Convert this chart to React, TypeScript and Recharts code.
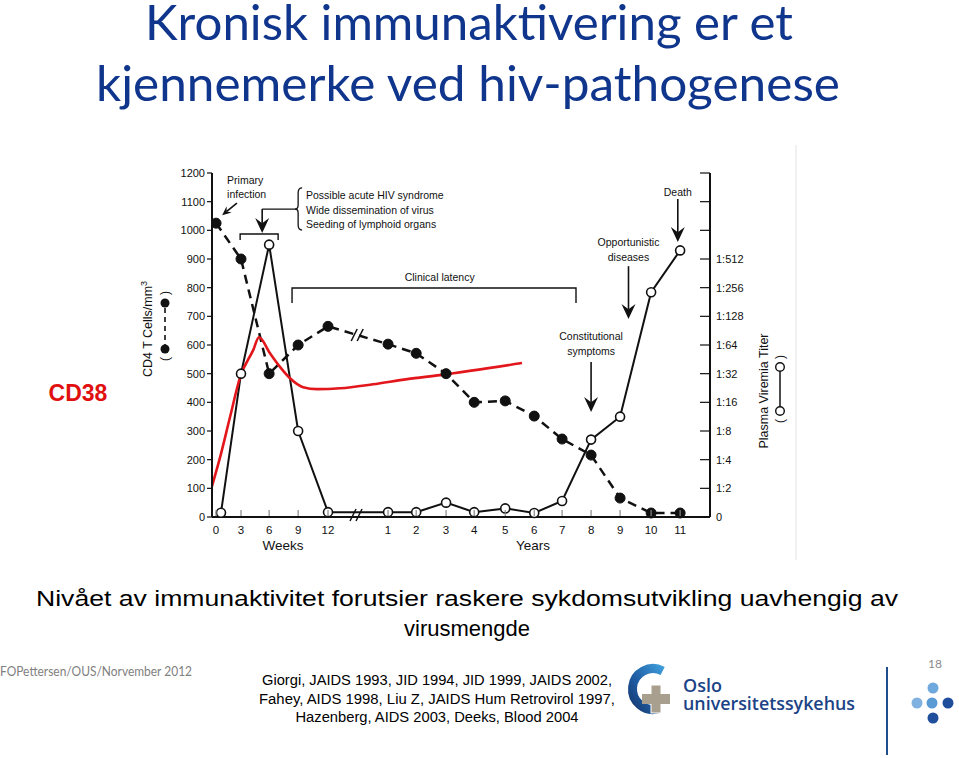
import React from 'react';
import { ComposedChart, Line, XAxis, YAxis, ReferenceLine, ReferenceDot } from 'recharts';

// broken time axis: weeks 0-12, then years 1-11 (positions)
const xTickLabels = ['0', '3', '6', '9', '12', '1', '2', '3', '4', '5', '6', '7', '8', '9', '10', '11'];
const xTickPos = [0, 0.86, 1.83, 2.83, 3.86, 5.93, 6.9, 7.93, 8.9, 9.97, 10.97, 11.93, 12.93, 13.93, 15.0, 16.0];

const cd4Ticks = [0, 100, 200, 300, 400, 500, 600, 700, 800, 900, 1000, 1100, 1200];
const cd4Counts = [1025, 900, 500, 600, 665, 603, 571, 500, 400, 405, 352, 272, 216, 66, 14, 14];

const titerSteps = [0, 1, 2, 3, 4, 5, 6, 7, 8, 9, 10, 11, 12];
const titerLabels = ['0', '1:2', '1:4', '1:8', '1:16', '1:32', '1:64', '1:128', '1:256', '1:512', '', '', ''];
const viremiaPos = [0.17, 0.86, 1.83, 2.83, 3.86, 5.93, 6.9, 7.93, 8.9, 9.97, 10.97, 11.93, 12.93, 13.93, 15.0, 16.0];
const viremiaLevel = [0.15, 5.0, 9.5, 3.0, 0.17, 0.17, 0.17, 0.5, 0.17, 0.3, 0.14, 0.56, 2.7, 3.5, 7.84, 9.3];

// red CD38 curve drawn over the figure
const cd38Pos = [-0.14, 0.14, 0.48, 0.83, 1.28, 1.48, 1.86, 2.21, 2.55, 3.0, 3.48, 4.28, 5.41, 6.59, 7.72, 10.55];
const cd38Level = [108, 209, 348, 488, 582, 627, 571, 523, 484, 453, 446, 449, 463, 481, 495, 537];

const cd4Data = xTickPos.map((x, i) => ({ x, cd4: cd4Counts[i] }));
const viremiaData = viremiaPos.map((x, i) => ({ x, v: viremiaLevel[i] }));
const cd38Data = cd38Pos.map((x, i) => ({ x, c: cd38Level[i] }));

const FONT = 'Liberation Sans, Arial, sans-serif';
const INK = '#111';

const XTick = (p: any) => {
  const { x, y, payload } = p;
  const i = xTickPos.indexOf(payload.value);
  return (
    <g>
      <line x1={x} x2={x} y1={y - 7} y2={y - 1} stroke="#888" strokeWidth={1.2} />
      <text x={x} y={y + 16.5} textAnchor="middle" fontSize={11.5} fill={INK} fontFamily={FONT}>
        {xTickLabels[i]}
      </text>
    </g>
  );
};

const LeftTick = (p: any) => {
  const { x, y, payload } = p;
  return (
    <g>
      <line x1={x - 5} x2={x} y1={y} y2={y} stroke={INK} strokeWidth={1.2} />
      <text x={x - 7} y={y} dy="0.35em" textAnchor="end" fontSize={11} fill={INK} fontFamily={FONT}>
        {payload.value}
      </text>
    </g>
  );
};

const RightTick = (p: any) => {
  const { x, y, payload } = p;
  const i = titerSteps.indexOf(payload.value);
  return (
    <g>
      <line x1={x - 10} x2={x} y1={y} y2={y} stroke={INK} strokeWidth={1.2} />
      <text x={x + 6} y={y} dy="0.35em" textAnchor="start" fontSize={11} fill={INK} fontFamily={FONT}>
        {titerLabels[i]}
      </text>
    </g>
  );
};

const arrowShape = (len: number, half: number) => (p: any) => {
  const { x1, y1, x2, y2 } = p;
  const a = Math.atan2(y2 - y1, x2 - x1);
  const c = Math.cos(a);
  const s = Math.sin(a);
  const bx = x2 - len * c;
  const by = y2 - len * s;
  const nx = x2 - len * 0.65 * c;
  const ny = y2 - len * 0.65 * s;
  return (
    <g>
      <line x1={x1} y1={y1} x2={nx} y2={ny} stroke={INK} strokeWidth={1.6} />
      <polygon
        points={`${x2},${y2} ${bx - s * half},${by + c * half} ${nx},${ny} ${bx + s * half},${by - c * half}`}
        fill={INK}
      />
    </g>
  );
};

const bracketShape = (drop: number) => (p: any) => {
  const { x1, y1, x2, y2 } = p;
  return (
    <path
      d={`M${x1},${y1 + drop} L${x1},${y1} L${x2},${y2} L${x2},${y2 + drop}`}
      fill="none"
      stroke={INK}
      strokeWidth={1.4}
    />
  );
};

const braceShape = (p: any) => {
  const { x1, y1, y2 } = p;
  const x = x1;
  const m = (y1 + y2) / 2;
  return (
    <path
      d={`M${x + 4},${y1} Q${x},${y1} ${x},${y1 + 5} L${x},${m - 4} Q${x},${m} ${x - 3},${m} Q${x},${m} ${x},${m + 4} L${x},${y2 - 5} Q${x},${y2} ${x + 4},${y2}`}
      fill="none"
      stroke={INK}
      strokeWidth={1.3}
    />
  );
};

const textShape = (lines: string[], anchor: string, size = 10.5, gap = 14.5) => (p: any) => (
  <text x={p.cx} y={p.cy} textAnchor={anchor} fontSize={size} fill={INK} fontFamily={FONT} dominantBaseline="central">
    {lines.map((l, i) => (
      <tspan key={i} x={p.cx} dy={i === 0 ? 0 : gap}>
        {l}
      </tspan>
    ))}
  </text>
);

const breakShape = (p: any) => {
  const { cx, cy } = p;
  return (
    <g stroke={INK} strokeWidth={1.5}>
      <line x1={cx - 7} y1={cy + 6} x2={cx - 1} y2={cy - 6} />
      <line x1={cx - 1} y1={cy + 6} x2={cx + 5} y2={cy - 6} />
    </g>
  );
};

function Slide() {
  return (
    <svg width={959} height={758} style={{ position: 'absolute', left: 0, top: 0, pointerEvents: 'none' }}>
      <defs>
        <linearGradient id="logoArc" x1="1" y1="0" x2="0" y2="1">
          <stop offset="0%" stopColor="#3d9ad8" />
          <stop offset="55%" stopColor="#1f5fa6" />
          <stop offset="100%" stopColor="#173a72" />
        </linearGradient>
      </defs>
      <text x={469} y={40} textAnchor="middle" fontFamily="Lato, sans-serif" fontSize={48} fill="#0f368c" textLength={648} lengthAdjust="spacingAndGlyphs">
        Kronisk immunaktivering er et
      </text>
      <text x={468} y={101} textAnchor="middle" fontFamily="Lato, sans-serif" fontSize={48} fill="#0f368c" textLength={744} lengthAdjust="spacingAndGlyphs">
        kjennemerke ved hiv-pathogenese
      </text>

      <text x={78} y={401} textAnchor="middle" fontFamily={FONT} fontWeight="bold" fontSize={23} fill="#e01010">
        CD38
      </text>

      {/* axis titles and series keys */}
      <text transform="translate(152,329) rotate(-90)" textAnchor="middle" fontFamily={FONT} fontSize={12.5} fill={INK}>
        CD4 T Cells/mm<tspan dy={-5} fontSize={9}>3</tspan>
      </text>
      <g transform="translate(165,326) rotate(-90)" fontFamily={FONT} fill={INK}>
        <text x={-33} y={4} fontSize={12} textAnchor="middle">(</text>
        <text x={33} y={4} fontSize={12} textAnchor="middle">)</text>
        <line x1={-23} x2={23} y1={0} y2={0} stroke={INK} strokeWidth={1.6} strokeDasharray="5 4" />
        <circle cx={-23} cy={0} r={4.5} />
        <circle cx={23} cy={0} r={4.5} />
      </g>
      <text transform="translate(768,391) rotate(-90)" textAnchor="middle" fontFamily={FONT} fontSize={12.5} fill={INK}>
        Plasma Viremia Titer
      </text>
      <g transform="translate(780,389) rotate(-90)" fontFamily={FONT} fill={INK}>
        <text x={-32} y={4} fontSize={12} textAnchor="middle">(</text>
        <text x={32} y={4} fontSize={12} textAnchor="middle">)</text>
        <line x1={-22} x2={22} y1={0} y2={0} stroke={INK} strokeWidth={1.5} />
        <circle cx={-22} cy={0} r={4.3} fill="#fff" stroke={INK} strokeWidth={1.4} />
        <circle cx={22} cy={0} r={4.3} fill="#fff" stroke={INK} strokeWidth={1.4} />
      </g>
      <text x={283} y={550} textAnchor="middle" fontFamily={FONT} fontSize={13.5} fill={INK}>Weeks</text>
      <text x={533} y={550} textAnchor="middle" fontFamily={FONT} fontSize={13.5} fill={INK}>Years</text>
      <line x1={796} x2={796} y1={145} y2={560} stroke="#ececec" strokeWidth={1.5} />

      <text x={467} y={606} textAnchor="middle" fontFamily={FONT} fontSize={22} fill="#000" textLength={862} lengthAdjust="spacingAndGlyphs">
        Nivået av immunaktivitet forutsier raskere sykdomsutvikling uavhengig av
      </text>
      <text x={467} y={636} textAnchor="middle" fontFamily={FONT} fontSize={22} fill="#000">
        virusmengde
      </text>

      <text x={0} y={676} fontFamily="Lato, sans-serif" fontSize={13} fill="#808080" textLength={192} lengthAdjust="spacingAndGlyphs">
        FOPettersen/OUS/Norvember 2012
      </text>
      <text x={437} y={685} textAnchor="middle" fontFamily={FONT} fontSize={14} fill="#000" textLength={350} lengthAdjust="spacingAndGlyphs">
        Giorgi, JAIDS 1993, JID 1994, JID 1999, JAIDS 2002,
      </text>
      <text x={437} y={704} textAnchor="middle" fontFamily={FONT} fontSize={14} fill="#000" textLength={356} lengthAdjust="spacingAndGlyphs">
        Fahey, AIDS 1998, Liu Z, JAIDS Hum Retrovirol 1997,
      </text>
      <text x={437} y={722} textAnchor="middle" fontFamily={FONT} fontSize={14} fill="#000" textLength={283} lengthAdjust="spacingAndGlyphs">
        Hazenberg, AIDS 2003, Deeks, Blood 2004
      </text>

      {/* hospital logo */}
      <path d="M662.6,670.9 A20.5,20.5 0 1 0 658.7,708.7" fill="none" stroke="url(#logoArc)" strokeWidth={9} />
      <rect x={651} y={685} width={10} height={28} fill="#a89f8e" stroke="#fff" strokeWidth={1} />
      <rect x={642} y={694} width={28} height={10} fill="#a89f8e" />
      <rect x={652} y={686} width={8} height={26} fill="#a89f8e" />
      <text fontFamily="Open Sans, sans-serif" fontWeight={600} fontSize={18} fill="#1b4386">
        <tspan x={683} y={692}>Oslo</tspan>
        <tspan x={683} y={710} textLength={172} lengthAdjust="spacingAndGlyphs">universitetssykehus</tspan>
      </text>
      <line x1={887} x2={887} y1={667} y2={755} stroke="#1f4e8c" strokeWidth={2} />
      <text x={935} y={668} textAnchor="middle" fontFamily="Lato, sans-serif" fontSize={12} fill="#8a8a8a">18</text>
      <circle cx={933} cy={688} r={5.5} fill="#6fa8dc" />
      <circle cx={917} cy={703} r={5.5} fill="#7fb2e0" />
      <circle cx={932} cy={703} r={5.5} fill="#5a9bd5" />
      <circle cx={948} cy={703} r={5.5} fill="#1f4e9c" />
      <circle cx={933} cy={718} r={5.5} fill="#1f4e9c" />
    </svg>
  );
}

export default function App() {
  return (
    <div style={{ position: 'relative', width: 959, height: 758, background: '#fff', overflow: 'hidden' }}>
      <style>{'body{margin:0}'}</style>
      <ComposedChart width={959} height={758} margin={{ top: 173, right: 199, bottom: 211, left: 172 }} style={{ position: 'absolute', left: 0, top: 0 }}>
        <XAxis
          type="number"
          dataKey="x"
          domain={[-0.14, 17.03]}
          ticks={xTickPos}
          interval={0}
          allowDataOverflow
          height={30}
          tick={<XTick />}
          tickSize={0}
          tickMargin={0}
          tickLine={false}
          axisLine={{ stroke: INK, strokeWidth: 2 }}
        />
        <YAxis
          yAxisId="left"
          domain={[0, 1200]}
          ticks={cd4Ticks}
          interval={0}
          width={40}
          tick={<LeftTick />}
          tickSize={0}
          tickMargin={0}
          tickLine={false}
          axisLine={{ stroke: INK, strokeWidth: 2 }}
        />
        <YAxis
          yAxisId="right"
          orientation="right"
          domain={[0, 12]}
          ticks={titerSteps}
          interval={0}
          width={50}
          tick={<RightTick />}
          tickSize={0}
          tickMargin={0}
          tickLine={false}
          axisLine={{ stroke: INK, strokeWidth: 2 }}
        />

        {/* annotations */}
        <ReferenceDot yAxisId="left" x={0.38} y={1176} r={1} ifOverflow="visible" shape={textShape(['Primary', 'infection'], 'start', 10.5, 14)} />
        <ReferenceLine yAxisId="left" ifOverflow="visible" segment={[{ x: 0.72, y: 1095 }, { x: 0.21, y: 1053 }]} shape={arrowShape(9, 4)} />
        <ReferenceLine yAxisId="left" ifOverflow="visible" segment={[{ x: 0.83, y: 987 }, { x: 2.14, y: 987 }]} shape={bracketShape(6)} />
        <ReferenceLine yAxisId="left" ifOverflow="visible" segment={[{ x: 2.79, y: 1074 }, { x: 1.59, y: 1074 }]} stroke={INK} strokeWidth={1.4} />
        <ReferenceLine yAxisId="left" ifOverflow="visible" segment={[{ x: 1.59, y: 1074 }, { x: 1.59, y: 991 }]} shape={arrowShape(15, 7)} />
        <ReferenceLine yAxisId="left" ifOverflow="visible" segment={[{ x: 2.83, y: 1148 }, { x: 2.83, y: 1001 }]} shape={braceShape} />
        <ReferenceDot
          yAxisId="left"
          x={3.1}
          y={1123}
          r={1}
          ifOverflow="visible"
          shape={textShape(['Possible acute HIV syndrome', 'Wide dissemination of virus', 'Seeding of lymphoid organs'], 'start', 10.5, 14.5)}
        />
        <ReferenceLine yAxisId="left" ifOverflow="visible" segment={[{ x: 2.62, y: 799 }, { x: 12.41, y: 799 }]} shape={bracketShape(15)} />
        <ReferenceDot yAxisId="left" x={7.71} y={837} r={1} ifOverflow="visible" shape={textShape(['Clinical latency'], 'middle')} />
        <ReferenceDot yAxisId="left" x={14.22} y={959} r={1} ifOverflow="visible" shape={textShape(['Opportunistic', 'diseases'], 'middle', 10.5, 15)} />
        <ReferenceLine yAxisId="left" ifOverflow="visible" segment={[{ x: 14.22, y: 875 }, { x: 14.22, y: 691 }]} shape={arrowShape(15, 7)} />
        <ReferenceDot yAxisId="left" x={15.92} y={1134} r={1} ifOverflow="visible" shape={textShape(['Death'], 'middle')} />
        <ReferenceLine yAxisId="left" ifOverflow="visible" segment={[{ x: 15.92, y: 1109 }, { x: 15.92, y: 959 }]} shape={arrowShape(15, 7)} />
        <ReferenceDot yAxisId="left" x={12.93} y={631} r={1} ifOverflow="visible" shape={textShape(['Constitutional', 'symptoms'], 'middle', 10.5, 15)} />
        <ReferenceLine yAxisId="left" ifOverflow="visible" segment={[{ x: 12.93, y: 541 }, { x: 12.93, y: 366 }]} shape={arrowShape(15, 7)} />

        <Line
          yAxisId="right"
          data={viremiaData}
          dataKey="v"
          type="linear"
          stroke={INK}
          strokeWidth={2}
          dot={{ r: 4.5, fill: '#fff', stroke: INK, strokeWidth: 1.6 }}
          isAnimationActive={false}
        />
        <Line
          yAxisId="left"
          data={cd4Data}
          dataKey="cd4"
          type="linear"
          stroke={INK}
          strokeWidth={2.5}
          strokeDasharray="9 6"
          dot={{ r: 5, fill: INK, stroke: INK, strokeWidth: 1, strokeDasharray: '' }}
          isAnimationActive={false}
        />
        <ReferenceDot yAxisId="left" x={4.9} y={635} r={1} ifOverflow="visible" shape={breakShape} />
        <ReferenceDot yAxisId="left" x={4.86} y={7} r={1} ifOverflow="visible" shape={breakShape} />
        <Line
          yAxisId="left"
          data={cd38Data}
          dataKey="c"
          type="monotone"
          stroke="#e3161b"
          strokeWidth={2.6}
          dot={false}
          isAnimationActive={false}
        />
      </ComposedChart>
      <Slide />
    </div>
  );
}
